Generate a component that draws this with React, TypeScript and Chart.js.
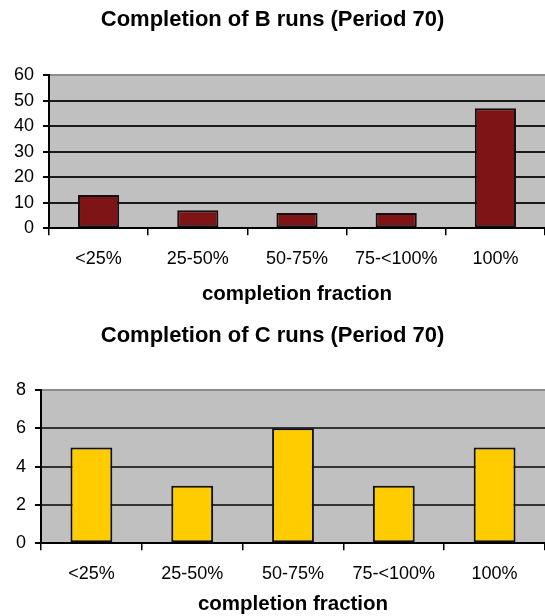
import React, { useEffect, useRef } from 'react';
import { Chart, registerables } from 'chart.js';

Chart.register(...registerables);

// ---- data ----
const categories = ['<25%', '25-50%', '50-75%', '75-<100%', '100%'];
const bRunCounts = [13, 7, 6, 6, 47];
const cRunCounts = [5, 3, 6, 3, 5];
const bTitle = 'Completion of B runs (Period 70)';
const cTitle = 'Completion of C runs (Period 70)';
const xAxisTitle = 'completion fraction';
const bYMax = 60;
const bYStep = 10;
const cYMax = 8;
const cYStep = 2;

const FONT = "'Liberation Sans', Arial, Helvetica, sans-serif";

const plotBg = {
  id: 'plotBg',
  beforeDraw(chart: any) {
    const { ctx, chartArea: a } = chart;
    if (!a) return;
    ctx.save();
    ctx.fillStyle = '#C0C0C0';
    ctx.fillRect(a.left, a.top, a.right - a.left, a.bottom - a.top);
    ctx.restore();
  },
};

type PanelProps = {
  top: number;
  height: number;
  title: string;
  values: number[];
  color: string;
  yMax: number;
  yStep: number;
  axisWidth: number;
  titlePadTop: number;
  titlePadBottom: number;
  tickPad: number;
  xTitlePadTop: number;
  xTitlePadBottom: number;
  gridColor: string;
};

function BarPanel(p: PanelProps) {
  const ref = useRef<HTMLCanvasElement | null>(null);
  useEffect(() => {
    if (!ref.current) return;
    const chart = new Chart(ref.current, {
      type: 'bar',
      data: {
        labels: categories,
        datasets: [
          {
            data: p.values,
            backgroundColor: p.color,
            borderColor: '#111111',
            borderWidth: 2,
            borderSkipped: false,
            barPercentage: 0.415,
            categoryPercentage: 1,
          },
        ],
      },
      options: {
        responsive: false,
        animation: false,
        devicePixelRatio: 1,
        layout: { padding: { left: 0, right: 0, top: 0, bottom: 0 } },
        plugins: {
          legend: { display: false },
          tooltip: { enabled: false },
          title: {
            display: true,
            text: p.title,
            color: '#000',
            font: { family: FONT, size: 22, weight: 'bold' },
            padding: { top: p.titlePadTop, bottom: p.titlePadBottom },
          },
        },
        scales: {
          x: {
            offset: true,
            grid: {
              offset: true,
              drawOnChartArea: false,
              drawTicks: true,
              tickLength: 7,
              color: '#000',
              lineWidth: 1.5,
            },
            border: { display: true, color: '#000', width: 2 },
            ticks: {
              color: '#000',
              font: { family: FONT, size: 18 },
              padding: p.tickPad,
              maxRotation: 0,
              autoSkip: false,
            },
            title: {
              display: true,
              text: xAxisTitle,
              color: '#000',
              font: { family: FONT, size: 20.5, weight: 'bold' },
              padding: { top: p.xTitlePadTop, bottom: p.xTitlePadBottom },
            },
          },
          y: {
            min: 0,
            max: p.yMax,
            grid: {
              drawTicks: true,
              tickLength: 6,
              lineWidth: 2,
              color: (ctx: any) => (ctx.tick && ctx.tick.value === p.yMax ? '#8c8c8c' : p.gridColor),
              tickColor: '#000',
            },
            border: { display: true, color: '#000', width: 2 },
            ticks: {
              stepSize: p.yStep,
              autoSkip: false,
              color: '#000',
              font: { family: FONT, size: 18 },
              padding: 9,
            },
            afterFit(scale: any) {
              scale.width = p.axisWidth;
            },
          },
        },
      },
      plugins: [plotBg],
    } as any);
    return () => chart.destroy();
  }, []);
  return (
    <canvas
      ref={ref}
      width={545}
      height={p.height}
      style={{ position: 'absolute', left: 0, top: p.top, width: 545, height: p.height, display: 'block' }}
    />
  );
}

export default function App() {
  return (
    <div style={{ position: 'absolute', left: 0, top: 0, width: 545, height: 616, background: '#fff', overflow: 'hidden' }}>
      <BarPanel
        top={0}
        height={310}
        title={bTitle}
        values={bRunCounts}
        color="#7E1416"
        yMax={bYMax}
        yStep={bYStep}
        axisWidth={49}
        titlePadTop={7}
        titlePadBottom={41.6}
        tickPad={13.3}
        xTitlePadTop={-1}
        xTitlePadBottom={3}
        gridColor="#1a1a1a"
      />
      <BarPanel
        top={308}
        height={310}
        title={cTitle}
        values={cRunCounts}
        color="#FFCC00"
        yMax={cYMax}
        yStep={cYStep}
        axisWidth={41}
        titlePadTop={14.4}
        titlePadBottom={41.2}
        tickPad={13.3}
        xTitlePadTop={-6.7}
        xTitlePadBottom={1.7}
        gridColor="#333333"
      />
    </div>
  );
}
